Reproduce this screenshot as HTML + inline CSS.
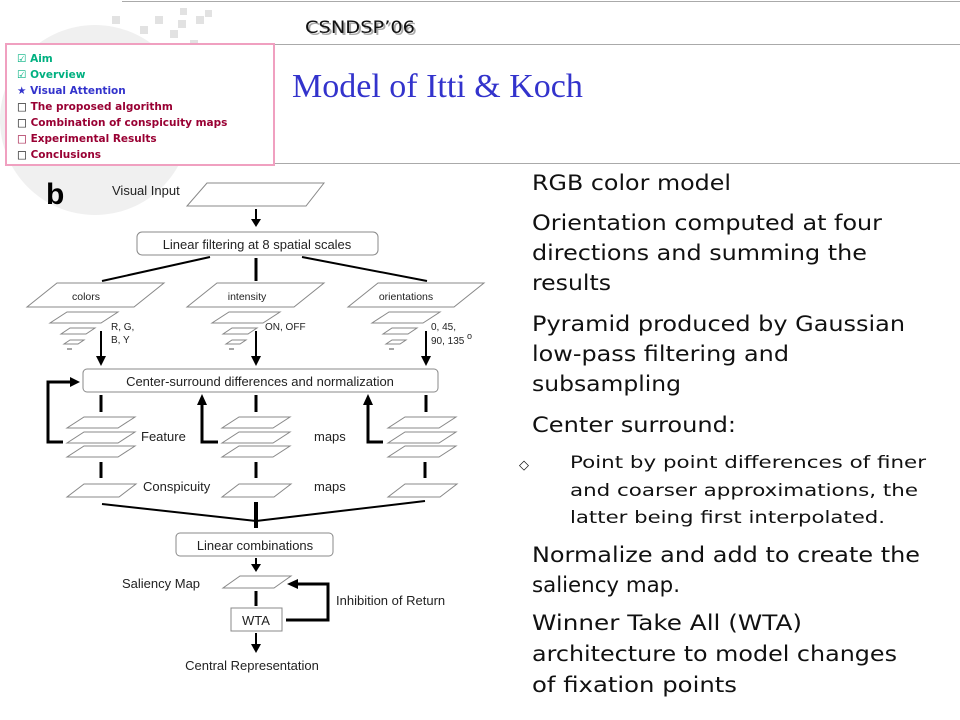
<!DOCTYPE html>
<html><head><meta charset="utf-8"><style>
html,body{margin:0;padding:0;background:#fff;width:960px;height:720px;overflow:hidden}
svg{display:block}
</style></head><body>
<svg width="960" height="720" viewBox="0 0 960 720" xmlns="http://www.w3.org/2000/svg">
<rect width="960" height="720" fill="#fff"/>
<circle cx="95" cy="120" r="95" fill="#f0f0f0"/>
<g fill="#e2e2e2">
<rect x="112" y="16" width="8" height="8"/><rect x="140" y="26" width="8" height="8"/><rect x="155" y="16" width="8" height="8"/><rect x="178" y="20" width="8" height="8"/><rect x="196" y="16" width="8" height="8"/><rect x="205" y="10" width="7" height="7"/><rect x="170" y="30" width="8" height="8"/><rect x="190" y="40" width="8" height="8"/><rect x="180" y="8" width="7" height="7"/>
</g>
<line x1="122" y1="1.5" x2="960" y2="1.5" stroke="#aaa" stroke-width="1"/>
<line x1="275" y1="44.5" x2="960" y2="44.5" stroke="#aaa" stroke-width="1"/>
<line x1="275" y1="163.5" x2="960" y2="163.5" stroke="#aaa" stroke-width="1"/>
<text x="307" y="35" font-family="'DejaVu Sans',sans-serif" font-size="17" fill="#aaa" textLength="110" lengthAdjust="spacingAndGlyphs">CSNDSP’06</text>
<text x="305" y="33" font-family="'DejaVu Sans',sans-serif" font-size="17" fill="#111" textLength="110" lengthAdjust="spacingAndGlyphs">CSNDSP’06</text>
<text x="292" y="97" font-family="'Liberation Serif',serif" font-size="34" fill="#3333cc">Model of Itti &amp; Koch</text>
<rect x="6" y="44" width="268" height="121" fill="#fff" stroke="#f0a0c0" stroke-width="2"/>
<g font-family="'DejaVu Sans',sans-serif" font-size="10.5" font-weight="bold">
<text x="17" y="62" fill="#00b080">☑ Aim</text>
<text x="17" y="78" fill="#00b080">☑ Overview</text>
<text x="17" y="94" fill="#3333cc">★ Visual Attention</text>
<text x="17" y="110" fill="#990033"><tspan fill="#000">□</tspan> The proposed algorithm</text>
<text x="17" y="126" fill="#990033"><tspan fill="#000">□</tspan> Combination of conspicuity maps</text>
<text x="17" y="142" fill="#990033">□ Experimental Results</text>
<text x="17" y="158" fill="#990033"><tspan fill="#000">□</tspan> Conclusions</text>
</g>
<g font-family="'Liberation Sans',sans-serif" fill="#222">
<text x="46" y="204" font-size="30" font-weight="bold" fill="#000">b</text>
<text x="112" y="195" font-size="13">Visual Input</text>
<text x="257" y="249" font-size="13" text-anchor="middle">Linear filtering at 8 spatial scales</text>
<text x="86" y="300" font-size="10.5" text-anchor="middle">colors</text>
<text x="247" y="300" font-size="10.5" text-anchor="middle">intensity</text>
<text x="406" y="300" font-size="10.5" text-anchor="middle">orientations</text>
<text x="111" y="330" font-size="10">R, G,</text>
<text x="111" y="343" font-size="10">B, Y</text>
<text x="265" y="330" font-size="10">ON, OFF</text>
<text x="431" y="330" font-size="10">0, 45,</text>
<text x="431" y="344" font-size="10">90, 135</text><text x="467" y="339" font-size="9">o</text>
<text x="260" y="386" font-size="13" text-anchor="middle">Center-surround differences and normalization</text>
<text x="141" y="441" font-size="13">Feature</text>
<text x="314" y="441" font-size="13">maps</text>
<text x="143" y="491" font-size="13">Conspicuity</text>
<text x="314" y="491" font-size="13">maps</text>
<text x="255" y="550" font-size="13" text-anchor="middle">Linear combinations</text>
<text x="122" y="588" font-size="13">Saliency Map</text>
<text x="256" y="625" font-size="13" text-anchor="middle">WTA</text>
<text x="336" y="605" font-size="13">Inhibition of Return</text>
<text x="252" y="670" font-size="13" text-anchor="middle">Central Representation</text>
</g>
<g fill="none" stroke="#888" stroke-width="1">
<polygon points="207,183 324,183 306,206 187,206"/>
<rect x="137" y="232" width="241" height="23" rx="5"/>
<polygon points="57,283 164,283 134,307 27,307"/>
<polygon points="217,283 324,283 294,307 187,307"/>
<polygon points="378,283 484,283 454,307 348,307"/>
<polygon points="67,312 118,312 101,323 50,323"/><polygon points="70,328 95,328 86,334 61,334"/><polygon points="70,340 84,340 78,344 64,344"/>
<polygon points="229,312 280,312 263,323 212,323"/><polygon points="232,328 257,328 248,334 223,334"/><polygon points="232,340 246,340 240,344 226,344"/>
<polygon points="389,312 440,312 423,323 372,323"/><polygon points="392,328 417,328 408,334 383,334"/><polygon points="392,340 406,340 400,344 386,344"/>
<rect x="83" y="369" width="355" height="23" rx="4"/>
<polygon points="84,417 135,417 118,428 67,428"/><polygon points="84,432 135,432 118,443 67,443"/><polygon points="84,446 135,446 118,457 67,457"/>
<polygon points="239,417 290,417 273,428 222,428"/><polygon points="239,432 290,432 273,443 222,443"/><polygon points="239,446 290,446 273,457 222,457"/>
<polygon points="405,417 456,417 439,428 388,428"/><polygon points="405,432 456,432 439,443 388,443"/><polygon points="405,446 456,446 439,457 388,457"/>
<polygon points="84,484 136,484 119,497 67,497"/>
<polygon points="239,484 291,484 274,497 222,497"/>
<polygon points="405,484 457,484 440,497 388,497"/>
<rect x="176" y="533" width="157" height="23" rx="4"/>
<polygon points="240,576 291,576 274,588 223,588"/>
<rect x="231" y="608" width="51" height="23"/>
</g>
<g stroke="#888" stroke-width="1.5"><line x1="67" y1="349" x2="72" y2="349"/><line x1="229" y1="349" x2="234" y2="349"/><line x1="389" y1="349" x2="394" y2="349"/></g>
<g stroke="#000" fill="none">
<line x1="256" y1="209" x2="256" y2="220" stroke-width="2"/>
<line x1="210" y1="257" x2="102" y2="281" stroke-width="2"/>
<line x1="256" y1="258" x2="256" y2="281" stroke-width="3"/>
<line x1="302" y1="257" x2="427" y2="281" stroke-width="2"/>
<line x1="101" y1="331" x2="101" y2="358" stroke-width="2"/>
<line x1="256" y1="331" x2="256" y2="358" stroke-width="2"/>
<line x1="426" y1="331" x2="426" y2="358" stroke-width="2"/>
<polyline points="63,442 48,442 48,382 72,382" stroke-width="3"/>
<line x1="101" y1="395" x2="101" y2="412" stroke-width="3"/>
<line x1="256" y1="395" x2="256" y2="412" stroke-width="3"/>
<line x1="426" y1="395" x2="426" y2="412" stroke-width="3"/>
<polyline points="218,442 202,442 202,404" stroke-width="3"/>
<polyline points="383,442 368,442 368,404" stroke-width="3"/>
<line x1="101" y1="462" x2="101" y2="478" stroke-width="3"/>
<line x1="256" y1="462" x2="256" y2="478" stroke-width="3"/>
<line x1="425" y1="462" x2="425" y2="478" stroke-width="3"/>
<line x1="102" y1="504" x2="256" y2="521" stroke-width="2"/>
<line x1="425" y1="501" x2="256" y2="521" stroke-width="2"/>
<line x1="256" y1="502" x2="256" y2="528" stroke-width="4"/>
<line x1="256" y1="558" x2="256" y2="565" stroke-width="2"/>
<line x1="256" y1="591" x2="256" y2="606" stroke-width="3"/>
<polyline points="286,620 328,620 328,584 296,584" stroke-width="3"/>
<line x1="256" y1="633" x2="256" y2="645" stroke-width="2"/>
</g>
<g fill="#000">
<polygon points="251,219 261,219 256,227"/>
<polygon points="96,356 106,356 101,366"/>
<polygon points="251,356 261,356 256,366"/>
<polygon points="421,356 431,356 426,366"/>
<polygon points="70,377 70,387 80,382"/>
<polygon points="197,405 207,405 202,394"/>
<polygon points="363,405 373,405 368,394"/>
<polygon points="251,564 261,564 256,572"/>
<polygon points="298,579 298,589 287,584"/>
<polygon points="251,644 261,644 256,653"/>
</g>
<g font-family="'DejaVu Sans',sans-serif" font-size="21" fill="#111">
<text x="532" y="190" textLength="199" lengthAdjust="spacingAndGlyphs">RGB color model</text>
<text x="532" y="230" textLength="350" lengthAdjust="spacingAndGlyphs">Orientation computed at four</text>
<text x="532" y="260" textLength="335" lengthAdjust="spacingAndGlyphs">directions and summing the</text>
<text x="532" y="290" textLength="79" lengthAdjust="spacingAndGlyphs">results</text>
<text x="532" y="331" textLength="373" lengthAdjust="spacingAndGlyphs">Pyramid produced by Gaussian</text>
<text x="532" y="361" textLength="257" lengthAdjust="spacingAndGlyphs">low-pass filtering and</text>
<text x="532" y="391" textLength="149" lengthAdjust="spacingAndGlyphs">subsampling</text>
<text x="532" y="432" textLength="204" lengthAdjust="spacingAndGlyphs">Center surround:</text>
<text x="532" y="562" textLength="388" lengthAdjust="spacingAndGlyphs">Normalize and add to create the</text>
<text x="532" y="592" textLength="148" lengthAdjust="spacingAndGlyphs">saliency map.</text>
<text x="532" y="630" textLength="270" lengthAdjust="spacingAndGlyphs">Winner Take All (WTA)</text>
<text x="532" y="661" textLength="365" lengthAdjust="spacingAndGlyphs">architecture to model changes</text>
<text x="532" y="692" textLength="205" lengthAdjust="spacingAndGlyphs">of fixation points</text>
</g>
<g font-family="'DejaVu Sans',sans-serif" font-size="17" fill="#111">
<text x="519" y="469" font-size="13">◇</text>
<text x="570" y="468" textLength="356" lengthAdjust="spacingAndGlyphs">Point by point differences of finer</text>
<text x="570" y="496" textLength="348" lengthAdjust="spacingAndGlyphs">and coarser approximations, the</text>
<text x="570" y="523" textLength="315" lengthAdjust="spacingAndGlyphs">latter being first interpolated.</text>
</g>
</svg>
</body></html>
